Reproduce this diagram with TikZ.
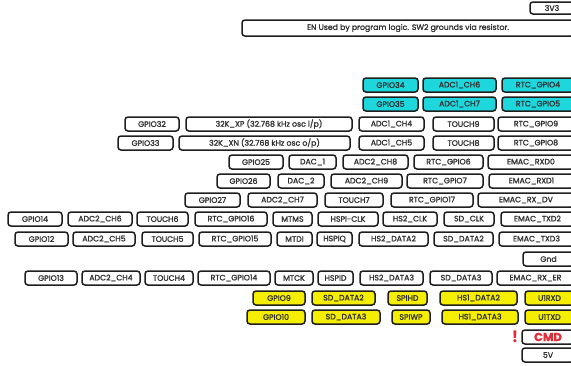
\documentclass[tikz,border=0pt]{standalone}
\usepackage{fontspec}
\setmainfont{Poppins}
\newfontfamily\pinfont{Poppins}[FakeBold=1.6]
\usepackage{tikz}
\usetikzlibrary{positioning}
\definecolor{pinline}{RGB}{30,30,30}
\definecolor{pintext}{RGB}{50,50,50}
\definecolor{inputcolor}{RGB}{30,215,220}
\definecolor{flashcolor}{RGB}{245,238,0}
\definecolor{warncolor}{RGB}{225,45,55}

\begin{document}
\begin{tikzpicture}[
    x=1pt, y=-1pt,
    pinbox/.style={draw=pinline, line width=1.5pt, rounded corners=3pt, minimum height=14pt, inner sep=0pt, text=pintext, font=\pinfont\fontsize{7.8}{8}\selectfont},
    inbox/.style={pinbox, fill=inputcolor},
    flashbox/.style={pinbox, fill=flashcolor}
]
    \path[use as bounding box, clip] (0,0) rectangle (571,365);

    % Power and enable
    \node[pinbox, minimum width=44pt, minimum height=12pt] (v33) at (552,8) {3V3};
    \node[pinbox, minimum width=332pt, minimum height=16pt] (en) at (408,28) {EN Used by program logic. SW2 grounds via resistor.};

    % Input only pins
    \node[inbox, minimum width=55pt] (gpio34) at (390.5,85) {GPIO34};
    \node[inbox, minimum width=73pt] (adc1ch6) at (459.5,85) {ADC1\_CH6};
    \node[inbox, minimum width=72pt] (rtc4) at (538,85) {RTC\_GPIO4};

    \node[inbox, minimum width=55pt] (gpio35) at (390.5,104) {GPIO35};
    \node[inbox, minimum width=73pt] (adc1ch7) at (459.5,104) {ADC1\_CH7};
    \node[inbox, minimum width=72pt] (rtc5) at (538,104) {RTC\_GPIO5};

    % Crystal pins
    \node[pinbox, minimum width=54pt] (gpio32) at (152,124) {GPIO32};
    \node[pinbox, minimum width=166pt] (xp) at (269,124) {32K\_XP (32.768 kHz osc i/p)};
    \node[pinbox, minimum width=65pt] (adc1ch4) at (391.5,124) {ADC1\_CH4};
    \node[pinbox, minimum width=61pt] (touch9) at (463.5,124) {TOUCH9};
    \node[pinbox, minimum width=76pt] (rtc9) at (536,124) {RTC\_GPIO9};

    \node[pinbox, minimum width=55pt] (gpio33) at (145.5,143) {GPIO33};
    \node[pinbox, minimum width=171pt] (xn) at (264.5,143) {32K\_XN (32.768 kHz osc o/p)};
    \node[pinbox, minimum width=65pt] (adc1ch5) at (391.5,143) {ADC1\_CH5};
    \node[pinbox, minimum width=61pt] (touch8) at (463.5,143) {TOUCH8};
    \node[pinbox, minimum width=76pt] (rtc8) at (536,143) {RTC\_GPIO8};

    % DAC pins
    \node[pinbox, minimum width=54pt] (gpio25) at (256,162) {GPIO25};
    \node[pinbox, minimum width=47pt] (dac1) at (312.5,162) {DAC\_1};
    \node[pinbox, minimum width=65pt] (adc2ch8) at (375.5,162) {ADC2\_CH8};
    \node[pinbox, minimum width=69pt] (rtc6) at (448.5,162) {RTC\_GPIO6};
    \node[pinbox, minimum width=86pt] (rxd0) at (531,162) {EMAC\_RXD0};

    \node[pinbox, minimum width=53pt] (gpio26) at (243.5,181) {GPIO26};
    \node[pinbox, minimum width=46pt] (dac2) at (301,181) {DAC\_2};
    \node[pinbox, minimum width=71pt] (adc2ch9) at (366.5,181) {ADC2\_CH9};
    \node[pinbox, minimum width=76pt] (rtc7) at (445,181) {RTC\_GPIO7};
    \node[pinbox, minimum width=85pt] (rxd1) at (531.5,181) {EMAC\_RXD1};

    \node[pinbox, minimum width=55pt] (gpio27) at (212.5,200) {GPIO27};
    \node[pinbox, minimum width=69pt] (adc2ch7) at (282.5,200) {ADC2\_CH7};
    \node[pinbox, minimum width=58pt] (touch7) at (354,200) {TOUCH7};
    \node[pinbox, minimum width=82pt] (rtc17) at (432,200) {RTC\_GPIO17};
    \node[pinbox, minimum width=96pt] (rxdv) at (526,200) {EMAC\_RX\_DV};

    % JTAG / SPI pins
    \node[pinbox, minimum width=54pt] (gpio14) at (35,219) {GPIO14};
    \node[pinbox, minimum width=64pt] (adc2ch6) at (100,219) {ADC2\_CH6};
    \node[pinbox, minimum width=51pt] (touch6) at (162.5,219) {TOUCH6};
    \node[pinbox, minimum width=72pt] (rtc16) at (231,219) {RTC\_GPIO16};
    \node[pinbox, minimum width=39pt] (mtms) at (292.5,219) {MTMS};
    \node[pinbox, minimum width=60pt] (hspiclk) at (348,219) {HSPI-CLK};
    \node[pinbox, minimum width=54pt] (hs2clk) at (410,219) {HS2\_CLK};
    \node[pinbox, minimum width=50pt] (sdclk) at (469,219) {SD\_CLK};
    \node[pinbox, minimum width=73pt] (txd2) at (537.5,219) {EMAC\_TXD2};

    \node[pinbox, minimum width=53pt] (gpio12) at (41.5,239) {GPIO12};
    \node[pinbox, minimum width=62pt] (adc2ch5) at (104,239) {ADC2\_CH5};
    \node[pinbox, minimum width=51pt] (touch5) at (167.5,239) {TOUCH5};
    \node[pinbox, minimum width=72pt] (rtc15) at (235,239) {RTC\_GPIO15};
    \node[pinbox, minimum width=35pt] (mtdi) at (294.5,239) {MTDI};
    \node[pinbox, minimum width=35pt] (hspiq) at (334.5,239) {HSPIQ};
    \node[pinbox, minimum width=69pt] (hs2d2) at (393.5,239) {HS2\_DATA2};
    \node[pinbox, minimum width=59pt] (sdd2) at (463.5,239) {SD\_DATA2};
    \node[pinbox, minimum width=75pt] (txd3) at (536.5,239) {EMAC\_TXD3};

    \node[pinbox, minimum width=51pt] (gnd) at (548.5,259) {Gnd};

    \node[pinbox, minimum width=52pt] (gpio13) at (51,278) {GPIO13};
    \node[pinbox, minimum width=58pt] (adc2ch4) at (111,278) {ADC2\_CH4};
    \node[pinbox, minimum width=48pt] (touch4) at (169,278) {TOUCH4};
    \node[pinbox, minimum width=72pt] (rtc14) at (234,278) {RTC\_GPIO14};
    \node[pinbox, minimum width=38pt] (mtck) at (294,278) {MTCK};
    \node[pinbox, minimum width=35pt] (hspid) at (335.5,278) {HSPID};
    \node[pinbox, minimum width=63pt] (hs2d3) at (391.5,278) {HS2\_DATA3};
    \node[pinbox, minimum width=62pt] (sdd3) at (461,278) {SD\_DATA3};
    \node[pinbox, minimum width=77pt] (rxer) at (535.5,278) {EMAC\_RX\_ER};

    % Flash pins
    \node[flashbox, minimum width=52pt] (gpio9) at (279,298) {GPIO9};
    \node[flashbox, minimum width=63pt] (fsdd2) at (343.5,298) {SD\_DATA2};
    \node[flashbox, minimum width=39pt] (spihd) at (407.5,298) {SPIHD};
    \node[flashbox, minimum width=77pt] (hs1d2) at (478.5,298) {HS1\_DATA2};
    \node[flashbox, minimum width=49pt] (u1rxd) at (549.5,298) {U1RXD};

    \node[flashbox, minimum width=58pt] (gpio10) at (276,317) {GPIO10};
    \node[flashbox, minimum width=68pt] (fsdd3) at (346,317) {SD\_DATA3};
    \node[flashbox, minimum width=38pt] (spiwp) at (411,317) {SPIWP};
    \node[flashbox, minimum width=76pt] (hs1d3) at (480,317) {HS1\_DATA3};
    \node[flashbox, minimum width=49pt] (u1txd) at (549.5,317) {U1TXD};

    \node[pinbox, minimum width=52pt, text=warncolor, font=\pinfont\bfseries\fontsize{11.5}{12}\selectfont] (cmd) at (548,337) {CMD};
    \node[inner sep=0pt, text=warncolor, font=\bfseries\fontsize{16}{16}\selectfont, left=3pt of cmd] (warn) {!};

    \node[pinbox, minimum width=52pt] (v5) at (548,355) {5V};
\end{tikzpicture}
\end{document}
